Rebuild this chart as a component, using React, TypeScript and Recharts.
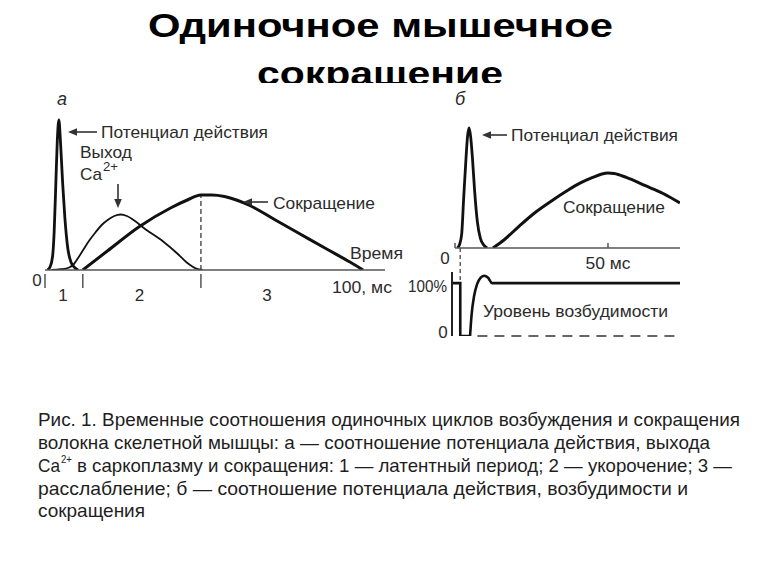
import React from "react";
import { LineChart, Line, XAxis, YAxis, ReferenceLine } from "recharts";

// panel а — time in ms, amplitude in relative units (AP peak = 100)
const apA = [
  { t: 0.8, v: 0 }, { t: 1.6, v: 2 }, { t: 2.4, v: 9 }, { t: 2.9, v: 25 }, { t: 3.4, v: 55 },
  { t: 3.9, v: 86 }, { t: 4.4, v: 100 }, { t: 4.9, v: 86 }, { t: 5.6, v: 58 }, { t: 6.3, v: 35 },
  { t: 7.2, v: 15 }, { t: 8.3, v: 5 }, { t: 9.5, v: 1.5 }, { t: 10.5, v: 0 },
];
const caA = [
  { t: 2, v: 0 }, { t: 5, v: 0.5 }, { t: 7.5, v: 1.5 }, { t: 9, v: 3.5 }, { t: 10.5, v: 8 },
  { t: 12, v: 13 }, { t: 14, v: 19.5 }, { t: 16, v: 25 }, { t: 18, v: 30 }, { t: 20, v: 33.5 },
  { t: 22, v: 36 }, { t: 24, v: 37 }, { t: 26, v: 36 }, { t: 28, v: 33.5 }, { t: 32, v: 27 },
  { t: 37.5, v: 19 }, { t: 42, v: 11 }, { t: 45, v: 5 }, { t: 48, v: 1 }, { t: 50, v: 0 },
];
const twitchA = [
  { t: 12, v: 0 }, { t: 20, v: 13 }, { t: 30, v: 29 }, { t: 40, v: 41.5 }, { t: 45, v: 46.5 },
  { t: 49.5, v: 50 }, { t: 53, v: 50 }, { t: 57, v: 49 }, { t: 61, v: 46.5 }, { t: 65, v: 43 },
  { t: 73, v: 33.5 }, { t: 81, v: 24 }, { t: 89, v: 14.5 }, { t: 96.8, v: 5.3 }, { t: 101, v: 0 },
];
const phaseBounds = [0, 12, 49.5];
const phaseNames = [
  { t: 5.7, label: "1" },
  { t: 30, label: "2" },
  { t: 70.5, label: "3" },
];
const timeEndA = 100;
const peakA = { t: 49.5, v: 50 };

// panel б
const apB = [
  { t: 0.8, v: 0 }, { t: 1.5, v: 3 }, { t: 2.2, v: 12 }, { t: 2.8, v: 40 }, { t: 3.6, v: 75 },
  { t: 4.1, v: 93 }, { t: 4.6, v: 100 }, { t: 5.1, v: 93 }, { t: 5.7, v: 75 }, { t: 6.4, v: 48 },
  { t: 7.3, v: 22 }, { t: 8.3, v: 8 }, { t: 9.4, v: 2.5 }, { t: 10.5, v: 0 },
];
const twitchB = [
  { t: 12.4, v: 0 }, { t: 16, v: 6.7 }, { t: 21, v: 18.3 }, { t: 26, v: 29.2 }, { t: 32, v: 40 },
  { t: 37, v: 48.3 }, { t: 41, v: 54.2 }, { t: 45, v: 58.8 }, { t: 48, v: 61.7 }, { t: 50, v: 62.5 },
  { t: 52, v: 62.1 }, { t: 56, v: 58.8 }, { t: 62, v: 52.1 }, { t: 68, v: 45.4 }, { t: 73.5, v: 37.5 },
];
const stimTime = 1.7;
const ticksB = [0, 50];
// excitability, % of rest level
const excDrop = [
  { t: -1, v: 100 }, { t: stimTime, v: 100 }, { t: stimTime, v: 0 }, { t: 4.9, v: 0 },
];
const excRecovery = [
  { t: 4.9, v: 0 }, { t: 5.4, v: 40 }, { t: 6.2, v: 75 }, { t: 7.2, v: 98 }, { t: 8.3, v: 110 },
  { t: 9.5, v: 114 }, { t: 10.8, v: 110 }, { t: 12.1, v: 100 }, { t: 73.5, v: 100 },
];
const excTicks = [0, 100];

const captionLines = [
  "Рис. 1. Временные соотношения одиночных циклов возбуждения и сокращения",
  "волокна скелетной мышцы: а — соотношение потенциала действия, выхода",
  "в саркоплазму и сокращения: 1 — латентный период; 2 — укорочение; 3 —",
  "расслабление; б — соотношение потенциала действия, возбудимости и",
  "сокращения",
];

const FONT = "'Liberation Sans', Arial, sans-serif";
const INK = "#111";
const TXT = "#2b2b2b";
const AXIS = "#555";

function TickA({ x, y, payload }: any) {
  const v = payload.value;
  const name = phaseNames.find((p) => p.t === v);
  const common = { fontFamily: FONT, fontSize: 17, fill: TXT, dominantBaseline: "central" as const, textAnchor: "middle" as const };
  if (name) return <text x={x} y={y + 25} {...common}>{name.label}</text>;
  if (v === timeEndA)
    return <text x={x + 2} y={y + 17} textLength={60} lengthAdjust="spacingAndGlyphs" {...common}>100, мс</text>;
  return (
    <g>
      <line x1={x} x2={x} y1={y + 4} y2={y + 18} stroke={AXIS} strokeWidth={1.5} />
      {v === 0 && <text x={x - 8} y={y + 10} {...common}>0</text>}
    </g>
  );
}

function TickB({ x, y, payload }: any) {
  const v = payload.value;
  const common = { fontFamily: FONT, fontSize: 17, fill: TXT, dominantBaseline: "central" as const, textAnchor: "middle" as const };
  return (
    <g>
      <line x1={x} x2={x} y1={y - 5} y2={y} stroke={AXIS} strokeWidth={1.5} />
      {v === 0 ? (
        <text x={x - 10} y={y + 10} {...common}>0</text>
      ) : (
        <text x={x} y={y + 15} textLength={45} lengthAdjust="spacingAndGlyphs" {...common}>{v} мс</text>
      )}
    </g>
  );
}

function TickExc({ x, y, payload }: any) {
  const v = payload.value;
  const common = { fontFamily: FONT, fontSize: 17, fill: TXT, dominantBaseline: "central" as const };
  return v === 100 ? (
    <text x={x - 5} y={y + 3} textAnchor="end" textLength={39} lengthAdjust="spacingAndGlyphs" {...common}>100%</text>
  ) : (
    <text x={x - 9} y={y - 4} textAnchor="middle" {...common}>0</text>
  );
}

function Arrow({ x1, y1, x2, y2 }: { x1: number; y1: number; x2: number; y2: number }) {
  const a = Math.atan2(y2 - y1, x2 - x1);
  const L = 9, W = 3.8;
  const bx = x2 - L * Math.cos(a), by = y2 - L * Math.sin(a);
  const px = -Math.sin(a) * W, py = Math.cos(a) * W;
  return (
    <g>
      <line x1={x1} y1={y1} x2={bx} y2={by} stroke="#333" strokeWidth={1.6} />
      <path d={`M${x2},${y2} L${bx + px},${by + py} L${bx - px},${by - py} Z`} fill="#333" />
    </g>
  );
}

function Label({ x, y, w, children, size = 17, anchor = "start" }: any) {
  return (
    <text x={x} y={y} fontFamily={FONT} fontSize={size} fill={TXT} dominantBaseline="central"
      textAnchor={anchor} textLength={w} lengthAdjust="spacingAndGlyphs">
      {children}
    </text>
  );
}

const abs = (left: number, top: number): React.CSSProperties => ({ position: "absolute", left, top });

export default function App() {
  return (
    <div style={{ position: "absolute", left: 0, top: 0, width: 768, height: 576, background: "#fff", overflow: "hidden" }}>
      {/* panel а */}
      <div style={abs(25, 100)}>
        <LineChart width={390} height={215} margin={{ top: 0, right: 30, bottom: 0, left: 20 }}>
          <XAxis type="number" dataKey="t" domain={[0, 107.94]} allowDataOverflow
            ticks={[...phaseBounds, ...phaseNames.map((p) => p.t), timeEndA]} interval={0}
            height={45} tickSize={0} tickMargin={0} tickLine={false}
            axisLine={{ stroke: AXIS, strokeWidth: 1.5 }} tick={(p: any) => <TickA {...p} />} />
          <YAxis hide type="number" domain={[0, 113.33]} allowDataOverflow />
          <ReferenceLine segment={[{ x: peakA.t, y: 0 }, { x: peakA.t, y: peakA.v }]}
            stroke={AXIS} strokeWidth={1.5} strokeDasharray="5 3" />
          <Line data={caA} dataKey="v" type="monotone" stroke={INK} strokeWidth={1.8} dot={false} activeDot={false} isAnimationActive={false} />
          <Line data={twitchA} dataKey="v" type="monotone" stroke={INK} strokeWidth={3} dot={false} activeDot={false} isAnimationActive={false} />
          <Line data={apA} dataKey="v" type="monotone" stroke={INK} strokeWidth={2.8} dot={false} activeDot={false} isAnimationActive={false} />
        </LineChart>
      </div>

      {/* panel б, top */}
      <div style={abs(435, 118)}>
        <LineChart width={245} height={170} margin={{ top: 0, right: 0, bottom: 0, left: 20 }}>
          <XAxis type="number" dataKey="t" domain={[0, 73.53]} allowDataOverflow ticks={ticksB} interval={0}
            height={40} tickSize={0} tickMargin={0} tickLine={false}
            axisLine={{ stroke: AXIS, strokeWidth: 1.5 }} tick={(p: any) => <TickB {...p} />} />
          <YAxis hide type="number" domain={[0, 108.33]} allowDataOverflow />
          <ReferenceLine ifOverflow="visible" segment={[{ x: stimTime, y: 0 }, { x: stimTime, y: -29 }]}
            stroke={AXIS} strokeWidth={1.4} strokeDasharray="4 3" />
          <Line data={twitchB} dataKey="v" type="monotone" stroke={INK} strokeWidth={3} dot={false} activeDot={false} isAnimationActive={false} />
          <Line data={apB} dataKey="v" type="monotone" stroke={INK} strokeWidth={2.8} dot={false} activeDot={false} isAnimationActive={false} />
        </LineChart>
      </div>

      {/* panel б, excitability */}
      <div style={abs(398, 272)}>
        <LineChart width={286} height={70} margin={{ top: 0, right: 4, bottom: 6, left: 0 }}>
          <XAxis hide type="number" dataKey="t" domain={[-1, 73.5]} allowDataOverflow />
          <YAxis type="number" domain={[0, 121]} allowDataOverflow width={54} ticks={excTicks} interval={0}
            tickSize={0} tickMargin={0} tickLine={false}
            axisLine={{ stroke: "#222", strokeWidth: 2 }} tick={(p: any) => <TickExc {...p} />} />
          <ReferenceLine segment={[{ x: 7.3, y: 0 }, { x: 73.5, y: 0 }]} stroke="#333" strokeWidth={1.6} strokeDasharray="10 7" />
          <Line data={excDrop} dataKey="v" type="linear" stroke={INK} strokeWidth={2.6} dot={false} activeDot={false} isAnimationActive={false} />
          <Line data={excRecovery} dataKey="v" type="monotone" stroke={INK} strokeWidth={2.6} dot={false} activeDot={false} isAnimationActive={false} />
        </LineChart>
      </div>

      {/* titles, annotations, caption */}
      <svg width={768} height={576} style={{ position: "absolute", left: 0, top: 0, pointerEvents: "none" }}>
        <defs>
          <clipPath id="titleClip"><rect x={0} y={0} width={768} height={83} /></clipPath>
        </defs>
        <g clipPath="url(#titleClip)" fontFamily={FONT} fontWeight="bold" fontSize={34} fill="#000" textAnchor="middle">
          <text x={380.5} y={37} textLength={465} lengthAdjust="spacingAndGlyphs">Одиночное мышечное</text>
          <text x={380} y={85} textLength={246} lengthAdjust="spacingAndGlyphs">сокращение</text>
        </g>

        <text x={62} y={99} fontFamily={FONT} fontStyle="italic" fontSize={18} fill={TXT} textAnchor="middle" dominantBaseline="central">а</text>
        <text x={460} y={99} fontFamily={FONT} fontStyle="italic" fontSize={18} fill={TXT} textAnchor="middle" dominantBaseline="central">б</text>

        <Arrow x1={97} y1={132} x2={68} y2={132} />
        <Label x={101} y={132} w={167}>Потенциал действия</Label>
        <Label x={80} y={152} w={52}>Выход</Label>
        <Label x={80} y={174} w={22}>Ca</Label>
        <Label x={103} y={167} w={15} size={12}>2+</Label>
        <Arrow x1={118} y1={184} x2={118} y2={208} />
        <Arrow x1={268} y1={202} x2={243} y2={202} />
        <Label x={273} y={203} w={102}>Сокращение</Label>
        <Label x={350} y={253} w={53}>Время</Label>

        <Arrow x1={507} y1={135} x2={482} y2={135} />
        <Label x={511} y={135} w={167}>Потенциал действия</Label>
        <Label x={563} y={207} w={102}>Сокращение</Label>
        <Label x={483} y={311} w={185}>Уровень возбудимости</Label>

        <g fontFamily={FONT} fontSize={18.5} fill="#1e1e1e" dominantBaseline="central">
          <text x={38} y={419} textLength={702} lengthAdjust="spacingAndGlyphs">{captionLines[0]}</text>
          <text x={38} y={442} textLength={672} lengthAdjust="spacingAndGlyphs">{captionLines[1]}</text>
          <text x={38} y={465} textLength={22} lengthAdjust="spacingAndGlyphs">Ca</text>
          <text x={61} y={459} fontSize={11} textLength={11} lengthAdjust="spacingAndGlyphs">2+</text>
          <text x={77} y={465} textLength={655} lengthAdjust="spacingAndGlyphs">{captionLines[2]}</text>
          <text x={38} y={488} textLength={650} lengthAdjust="spacingAndGlyphs">{captionLines[3]}</text>
          <text x={38} y={510} textLength={107} lengthAdjust="spacingAndGlyphs">{captionLines[4]}</text>
        </g>
      </svg>
    </div>
  );
}
